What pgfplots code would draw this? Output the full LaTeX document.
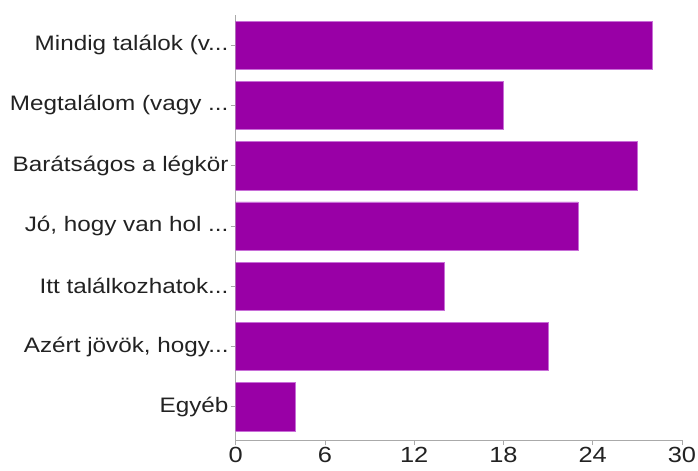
\documentclass[border=0pt]{standalone}
\usepackage{pgfplots}
\pgfplotsset{compat=1.18}
\usepackage{graphicx}
\usepackage{fontspec}
\setmainfont{Liberation Sans}
\definecolor{barpurple}{RGB}{153,0,166}
\definecolor{baredge}{RGB}{200,110,215}
\definecolor{axgray}{RGB}{170,170,170}
\definecolor{txt}{RGB}{34,34,34}
\newcommand{\ddd}{...}
\newcommand{\sx}[1]{\scalebox{1.16}[1]{#1}}
\begin{document}
\begin{tikzpicture}
\begin{axis}[name=ax, scale only axis, width=446.3bp, height=425bp,
  xbar, xmin=0, xmax=30, ymin=-0.55, ymax=6.5,
  xtick={0,6,12,18,24,30}, ytick={0,1,2,3,4,5,6},
  yticklabels={\sx{Egyéb},\sx{Azért jövök, hogy\ddd},\sx{Itt találkozhatok\ddd},\sx{Jó, hogy van hol \ddd},\sx{Barátságos a légkör},\sx{Megtalálom (vagy \ddd},\sx{Mindig találok (v\ddd}},
  xticklabels={\sx{0},\sx{6},\sx{12},\sx{18},\sx{24},\sx{30}},
  axis x line*=bottom, axis y line*=left,
  axis line style={axgray, line width=0.8pt, -},
  tick style={axgray, line width=0.8pt},
  major tick length=5bp, tick align=outside,
  xticklabel style={font=\fontsize{22}{26}\selectfont, text=txt, inner sep=1.5bp},
  yticklabel style={font=\fontsize{21}{25}\selectfont, text=txt, inner sep=2bp},
  /pgf/number format/assume math mode=true,
  bar width=0.8,
]
\addplot[fill=barpurple, draw=baredge, line width=0.6pt] coordinates {(4,0) (21,1) (14,2) (23,3) (27,4) (18,5) (28,6)};
\end{axis}
\pgfresetboundingbox
\path ([shift={(-235.7bp,-31bp)}]ax.south west) rectangle ([shift={(462.3bp,440bp)}]ax.south west);
\end{tikzpicture}
\end{document}
